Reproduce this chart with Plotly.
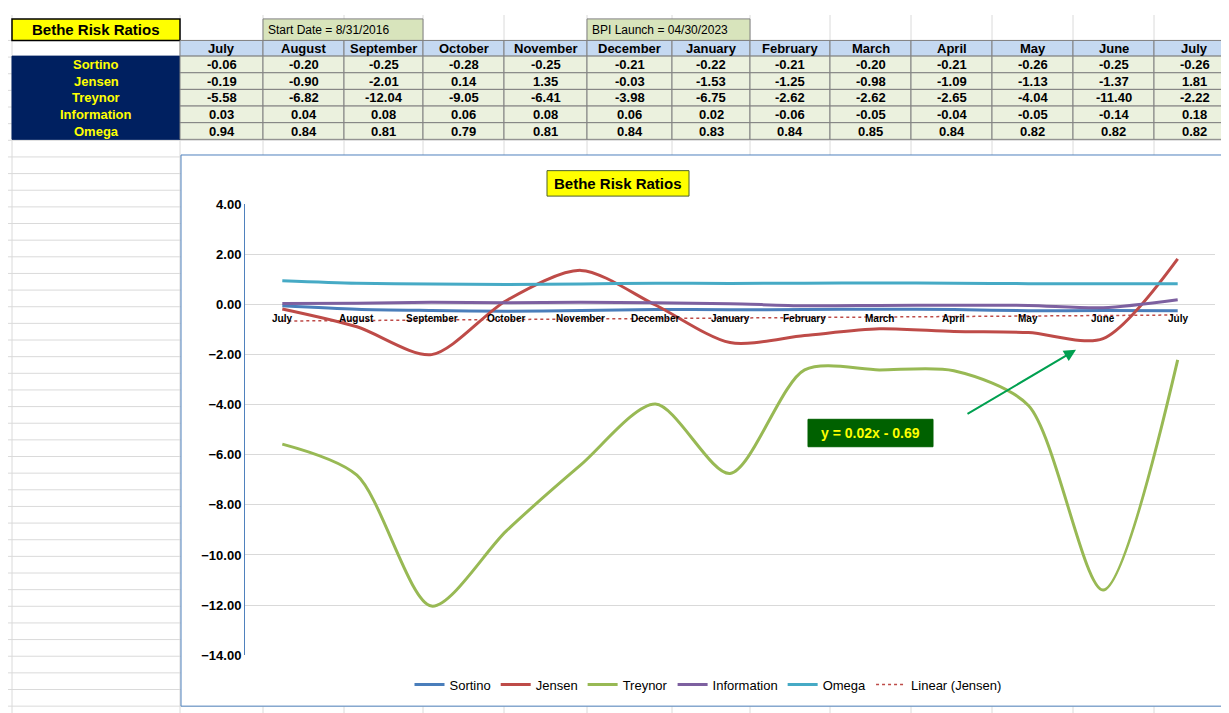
import plotly.graph_objects as go

months = ["July","August","September","October","November","December","January",
          "February","March","April","May","June","July"]
series_names = ["Sortino","Jensen","Treynor","Information","Omega"]
sortino = [-0.06,-0.20,-0.25,-0.28,-0.25,-0.21,-0.22,-0.21,-0.20,-0.21,-0.26,-0.25,-0.26]
jensen = [-0.19,-0.90,-2.01,0.14,1.35,-0.03,-1.53,-1.25,-0.98,-1.09,-1.13,-1.37,1.81]
treynor = [-5.58,-6.82,-12.04,-9.05,-6.41,-3.98,-6.75,-2.62,-2.62,-2.65,-4.04,-11.40,-2.22]
information = [0.03,0.04,0.08,0.06,0.08,0.06,0.02,-0.06,-0.05,-0.04,-0.05,-0.14,0.18]
omega = [0.94,0.84,0.81,0.79,0.81,0.84,0.83,0.84,0.85,0.84,0.82,0.82,0.82]
trend_slope, trend_icept = 0.02, -0.69
colors = ["#4a7ebb", "#be4b48", "#98b954", "#7d60a0", "#46aac5"]
values = [sortino, jensen, treynor, information, omega]

W, H = 1229, 713
def px(x): return x / W
def py(y): return 1 - y / H

fig = go.Figure()
xs = list(range(len(months)))
for name, vals, c in zip(series_names, values, colors):
    fig.add_trace(go.Scatter(x=xs, y=vals, name=name, mode="lines",
                             line=dict(color=c, width=3, shape="spline", smoothing=0.8)))
fig.add_trace(go.Scatter(x=xs, y=[trend_slope*(i+1)+trend_icept for i in xs],
                         name="Linear (Jensen)", mode="lines",
                         line=dict(color="#be4b48", width=1.5, dash="dot")))

shapes, ann = [], []
col_edges = [4, 172, 255, 336, 415, 496, 579, 664, 742, 822, 903, 984, 1065, 1146, 1227]
for xe in col_edges:
    shapes.append(dict(type="line", xref="paper", yref="paper", x0=px(xe), x1=px(xe),
                       y0=0, y1=1, line=dict(color="#dadada", width=1), layer="below"))
for r in range(0, 42):
    yy = 26 + r * 17
    shapes.append(dict(type="line", xref="paper", yref="paper", x0=0, x1=1,
                       y0=py(yy), y1=py(yy), line=dict(color="#dadada", width=1), layer="below"))
def rect(x0, y0, x1, y1, fill, line="#808080", lw=1):
    shapes.append(dict(type="rect", xref="paper", yref="paper", x0=px(x0), x1=px(x1),
                       y0=py(y1), y1=py(y0), fillcolor=fill, line=dict(color=line, width=lw),
                       layer="below"))
def text(x, y, t, size=12, color="black", bold=True, xanchor="center",
         family="Liberation Sans Narrow, Arial Narrow, Arial"):
    ann.append(dict(xref="paper", yref="paper", x=px(x), y=py(y), text=("<b>%s</b>" % t) if bold else t,
                    showarrow=False, xanchor=xanchor, yanchor="middle",
                    font=dict(size=size, color=color, family=family)))

rect(4, 4, 172, 26, "#ffff00", "black", 1.5)
text(88, 15, "Bethe Risk Ratios", 15, family="Liberation Sans")
rect(255, 4, 415, 26, "#d8e4bc")
text(258, 15, "Start Date = 8/31/2016", 12, bold=False, xanchor="left", family="Liberation Sans")
rect(579, 4, 742, 26, "#d8e4bc")
text(582, 15, "BPI Launch = 04/30/2023", 12, bold=False, xanchor="left", family="Liberation Sans")
rect(4, 42, 172, 127, "#002060", "#002060")
for i in range(13):
    x0, x1 = col_edges[i + 1], col_edges[i + 2]
    rect(x0, 26, x1, 42, "#c5d9f1")
    text((x0 + x1) / 2, 34, months[i], 13)
for r, (name, vals) in enumerate(zip(series_names, values)):
    y0 = 42 + r * 17
    text(88, y0 + 8.5, name, 13, "#ffff00")
    for i in range(13):
        x0, x1 = col_edges[i + 1], col_edges[i + 2]
        rect(x0, y0, x1, y0 + 17, "#ebf1de")
        text((x0 + x1) / 2, y0 + 8.5, "%.2f" % vals[i], 13)

rect(173, 143, 1223, 706, "white", "#4f81bd", 1)
rect(539, 159, 681, 185, "#ffff00", "#4f6228", 1)
text(610, 172, "Bethe Risk Ratios", 15, family="Liberation Sans")
for i, m in enumerate(months):
    ann.append(dict(xref="x", yref="y", x=i, y=-0.55, text="<b>%s</b>" % m, showarrow=False,
                    font=dict(size=10, color="black", family="Liberation Sans Narrow, Arial")))
rect(800, 413, 925, 441, "#006100", "#006100")
text(862, 427, "y = 0.02x - 0.69", 14, "#ffff00", family="Liberation Sans")
ann.append(dict(xref="paper", yref="paper", x=px(1068), y=py(342), ax=-110, ay=65,
                axref="pixel", ayref="pixel", showarrow=True, arrowhead=2, arrowsize=1.2,
                arrowwidth=2, arrowcolor="#00a050", text=""))

fig.update_layout(
    width=W, height=H, margin=dict(l=0, r=0, t=0, b=0),
    paper_bgcolor="white", plot_bgcolor="rgba(0,0,0,0)",
    shapes=shapes, annotations=ann,
    xaxis=dict(domain=[px(237), px(1207)], range=[-0.5, 12.5], showticklabels=False,
               showgrid=False, zeroline=False, showline=False),
    yaxis=dict(domain=[py(654), py(193)], range=[-14, 4], dtick=2, tickformat=".2f",
               showgrid=True, gridcolor="#d9d9d9", zeroline=False,
               showline=True, linecolor="#4f81bd", ticks="", ticklen=0,
               tickfont=dict(size=13, color="black", family="Liberation Sans"),
               tickprefix="<b>", ticksuffix="</b>"),
    legend=dict(orientation="h", x=px(700), xanchor="center", y=py(684), yanchor="middle",
                font=dict(size=13, family="Liberation Sans", color="black"),
                bgcolor="rgba(0,0,0,0)"),
    font=dict(family="Liberation Sans"),
)
fig.write_html("out.html")
